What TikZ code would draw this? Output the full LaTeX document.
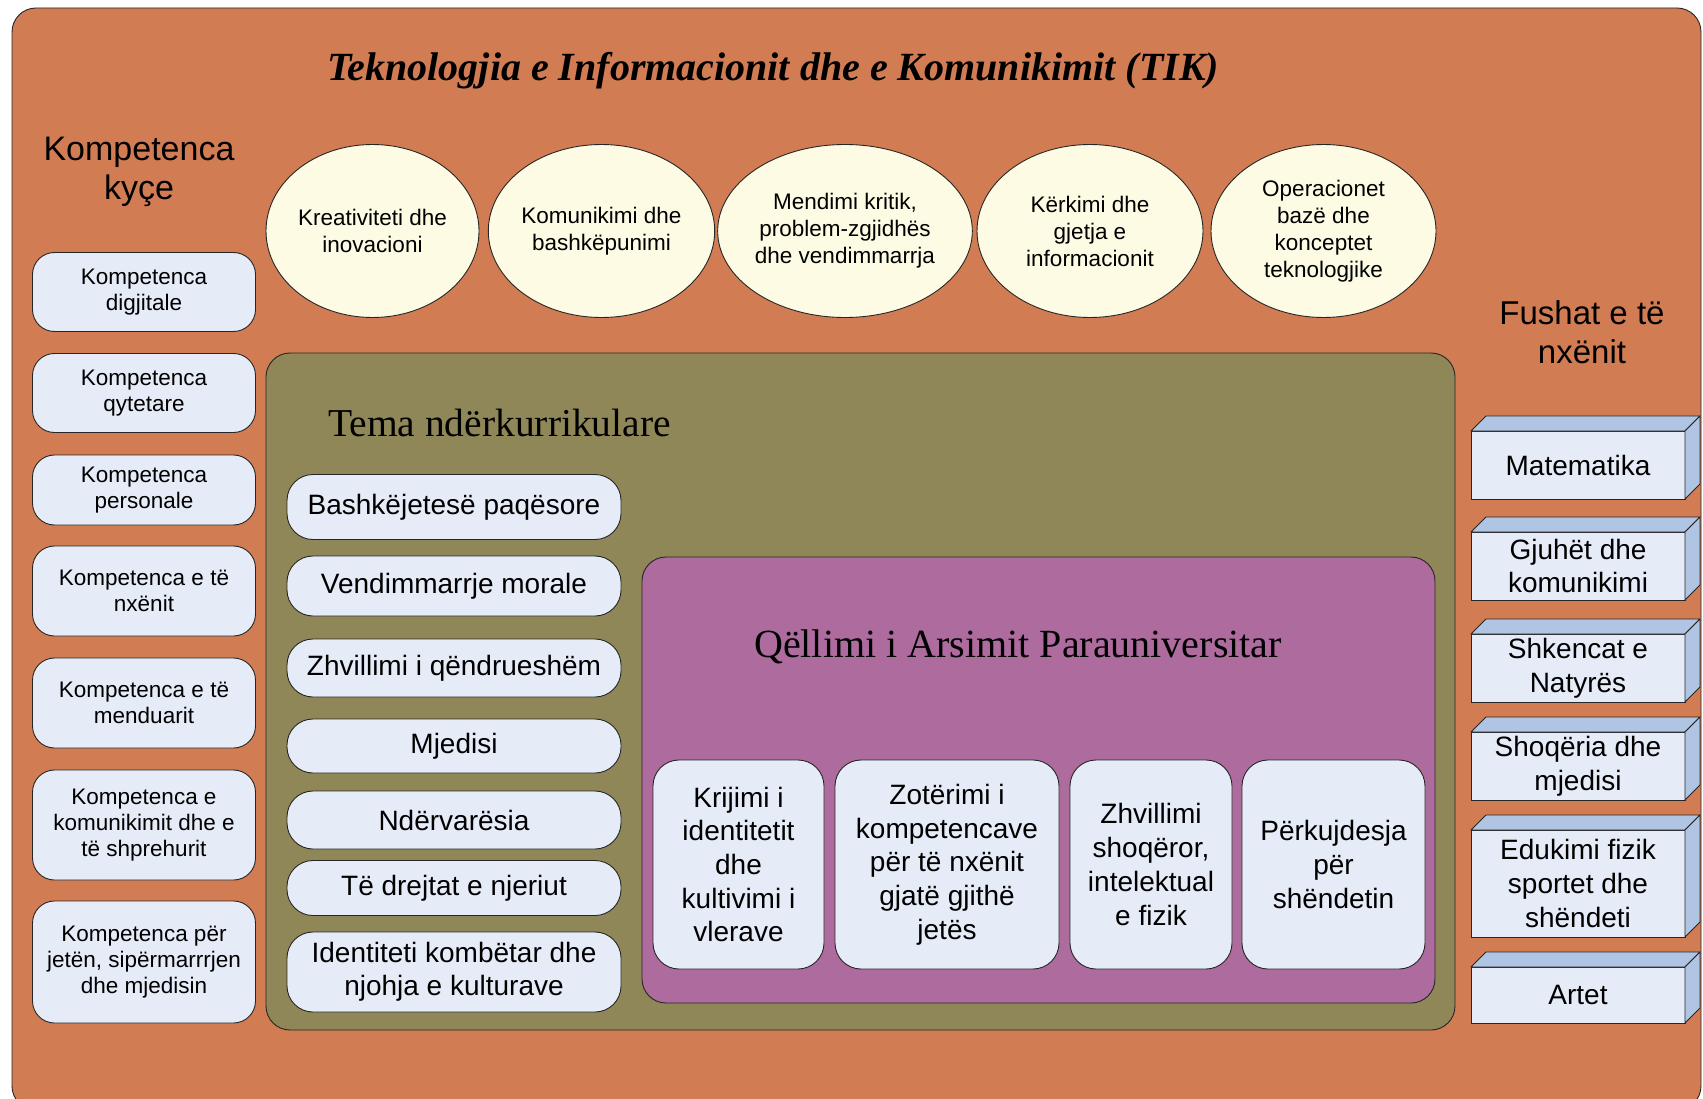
\documentclass[tikz,border=0pt]{standalone}
\usepackage{fontspec}
\setmainfont{Liberation Sans}
\newfontfamily\serifa{Liberation Serif}
\usetikzlibrary{shapes.geometric}

\definecolor{portokalli}{RGB}{210,124,84}
\definecolor{ulliri}{RGB}{143,135,87}
\definecolor{vjollce}{RGB}{173,107,158}
\definecolor{kaltert}{RGB}{230,236,247}
\definecolor{krem}{RGB}{253,251,227}
\definecolor{anesor}{RGB}{176,197,227}

\begin{document}
\begin{tikzpicture}[x=1pt, y=-1pt,
  vija/.style = {draw=black!85, line width=0.9pt},
  kompetenca/.style = {vija, fill=kaltert, rounded corners=22pt, minimum width=223pt, align=center, inner sep=0pt, outer sep=0pt, font=\fontsize{22.5}{26}\selectfont},
  flluske/.style = {vija, ellipse, fill=krem, minimum height=173pt, align=center, inner sep=0pt, font=\fontsize{22.5}{27}\selectfont},
  tema/.style = {vija, fill=kaltert, rounded corners=26pt, minimum width=334pt, align=center, inner sep=0pt, outer sep=0pt, font=\fontsize{28}{32.6}\selectfont},
  qellim/.style = {vija, fill=kaltert, rounded corners=26pt, minimum height=209pt, align=center, inner sep=0pt, outer sep=0pt, font=\fontsize{28}{33.7}\selectfont},
  fusha/.style = {vija, fill=kaltert, minimum width=214pt, align=center, inner sep=0pt, outer sep=0pt, font=\fontsize{28}{33.7}\selectfont}]

\useasboundingbox (0,0) rectangle (1703,1099);
\clip (0,0) rectangle (1703,1099);
\fill[white] (0,0) rectangle (1703,1099);
\draw[vija, fill=portokalli, rounded corners=24pt] (12,8) rectangle (1701,1110);

\node[anchor=base, font=\serifa\fontsize{40}{44}\selectfont\bfseries\itshape] (tik) at (773,81) {Teknologjia e Informacionit dhe e Komunikimit (TIK)};
\node[align=center, font=\fontsize{34}{39}\selectfont] (kyce) at (139,172) {Kompetenca\\kyçe};
\node[align=center, font=\fontsize{33}{39}\selectfont] (fushat) at (1582,332) {Fushat e të\\nxënit};

\node[flluske, minimum width=213pt] (b1) at (372.5,231) {Kreativiteti dhe\\inovacioni};
\node[flluske, minimum width=219pt] (b2) at (601.5,231) {Komunikimi dhe\\bashkëpunimi};
\node[flluske, minimum width=234pt] (b3) at (845,231) {Mendimi kritik,\\problem-zgjidhës\\dhe vendimmarrja};
\node[flluske, minimum width=226pt] (b4) at (1090,231) {Kërkimi dhe\\gjetja e\\informacionit};
\node[flluske, minimum width=225pt] (b5) at (1323.5,231) {Operacionet\\bazë dhe\\konceptet\\teknologjike};

\node[kompetenca, minimum height=79pt] (k1) at (144,292) {Kompetenca\\digjitale};
\node[kompetenca, minimum height=79pt] (k2) at (144,393) {Kompetenca\\qytetare};
\node[kompetenca, minimum height=70pt] (k3) at (144,490) {Kompetenca\\personale};
\node[kompetenca, minimum height=90pt] (k4) at (144,591) {Kompetenca e të\\nxënit};
\node[kompetenca, minimum height=90pt] (k5) at (144,703) {Kompetenca e të\\menduarit};
\node[kompetenca, minimum height=110pt] (k6) at (144,825) {Kompetenca e\\komunikimit dhe e\\të shprehurit};
\node[kompetenca, minimum height=122pt] (k7) at (144,962) {Kompetenca për\\jetën, sipërmarrrjen\\dhe mjedisin};

\draw[vija, fill=ulliri, rounded corners=24pt] (266,353) rectangle (1455,1030);
\node[font=\serifa\fontsize{39.5}{43}\selectfont] (temat) at (499.5,423) {Tema ndërkurrikulare};

\node[tema, minimum height=65pt] (t1) at (454,507) {Bashkëjetesë paqësore};
\node[tema, minimum height=60pt] (t2) at (454,586) {Vendimmarrje morale};
\node[tema, minimum height=58pt] (t3) at (454,668) {Zhvillimi i qëndrueshëm};
\node[tema, minimum height=54pt] (t4) at (454,746) {Mjedisi};
\node[tema, minimum height=58pt] (t5) at (454,820) {Ndërvarësia};
\node[tema, minimum height=55pt] (t6) at (454,888) {Të drejtat e njeriut};
\node[tema, minimum height=80pt] (t7) at (454,972) {Identiteti kombëtar dhe\\njohja e kulturave};

\draw[vija, fill=vjollce, rounded corners=24pt] (642,557) rectangle (1435,1003);
\node[font=\serifa\fontsize{40}{44}\selectfont] (qellimi) at (1018,647) {Qëllimi i Arsimit Parauniversitar};

\node[qellim, minimum width=171pt] (q1) at (738.5,864.5) {Krijimi i\\identitetit\\dhe\\kultivimi i\\vlerave};
\node[qellim, minimum width=224pt] (q2) at (947,864.5) {Zotërimi i\\kompetencave\\për të nxënit\\gjatë gjithë\\jetës};
\node[qellim, minimum width=162pt] (q3) at (1151,864.5) {Zhvillimi\\shoqëror,\\intelektual\\e fizik};
\node[qellim, minimum width=183pt] (q4) at (1333.5,864.5) {Përkujdesja\\për\\shëndetin};

\node[fusha, minimum height=68pt] (f1) at (1578,465) {Matematika};
\node[fusha, minimum height=68pt] (f2) at (1578,566) {Gjuhët dhe\\komunikimi};
\node[fusha, minimum height=68pt] (f3) at (1578,668) {Shkencat e\\Natyrës};
\node[fusha, minimum height=68pt] (f4) at (1578,766) {Shoqëria dhe\\mjedisi};
\node[fusha, minimum height=107pt] (f5) at (1578,883.5) {Edukimi fizik\\sportet dhe\\shëndeti};
\node[fusha, minimum height=56pt] (f6) at (1578,995) {Artet};

\foreach \f in {f1,f2,f3,f4,f5,f6} {
  \draw[vija, fill=anesor, line join=round] (\f.north west) -- ++(15,-15) -- ([xshift=15pt,yshift=15pt]\f.north east) -- (\f.north east) -- cycle;
  \draw[vija, fill=anesor, line join=round] (\f.north east) -- ++(15,-15) -- ([xshift=15pt,yshift=15pt]\f.south east) -- (\f.south east) -- cycle;
}

\end{tikzpicture}
\end{document}
